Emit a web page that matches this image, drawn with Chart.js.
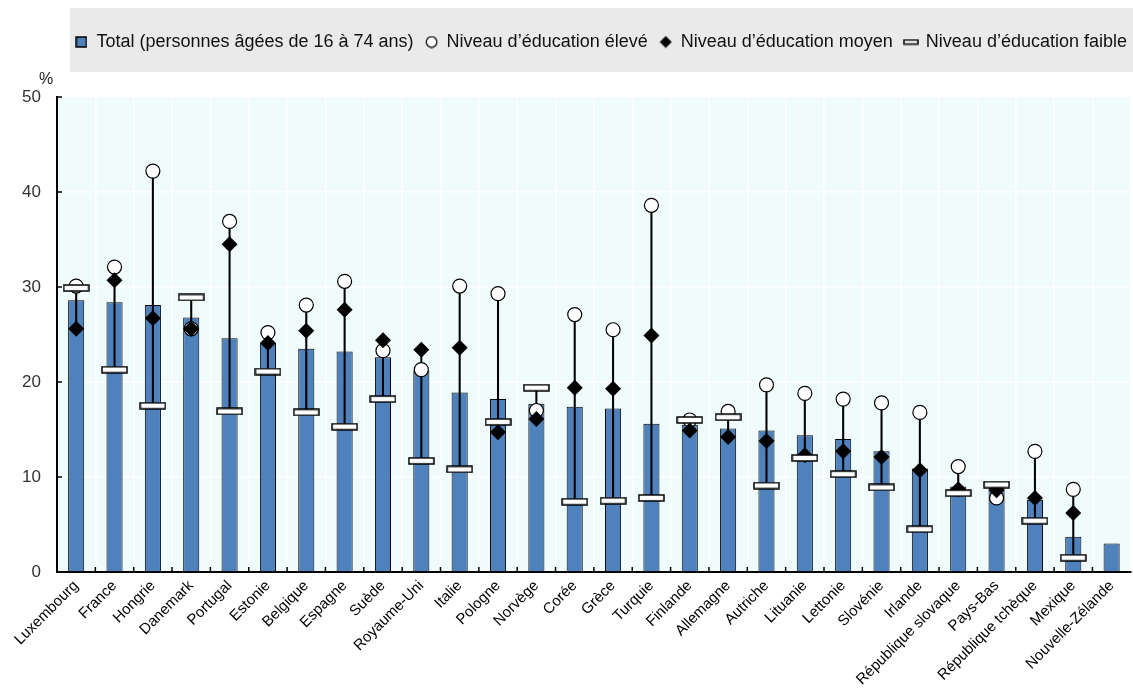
<!DOCTYPE html>
<html>
<head>
<meta charset="utf-8">
<script src="https://cdn.jsdelivr.net/npm/chart.js@4"></script>
<style>
  html, body { margin: 0; padding: 0; background: #fff; overflow: hidden; }
  #wrap { width: 1139px; height: 692px; }
</style>
</head>
<body>
<div id="wrap"><canvas id="myChart"></canvas></div>
<script>
const countries = ["Luxembourg", "France", "Hongrie", "Danemark", "Portugal", "Estonie", "Belgique", "Espagne", "Suède", "Royaume-Uni", "Italie", "Pologne", "Norvège", "Corée", "Grèce", "Turquie", "Finlande", "Allemagne", "Autriche", "Lituanie", "Lettonie", "Slovénie", "Irlande", "République slovaque", "Pays-Bas", "République tchèque", "Mexique", "Nouvelle-Zélande"];
const total = [28.6, 28.4, 28.1, 26.8, 24.6, 24.1, 23.5, 23.2, 22.6, 21.2, 18.9, 18.2, 17.7, 17.4, 17.2, 15.6, 15.5, 15.1, 14.9, 14.4, 14.0, 12.7, 10.9, 9.0, 8.9, 7.6, 3.7, 3.0];
const high = [30.1, 32.1, 42.2, 25.6, 36.9, 25.2, 28.1, 30.6, 23.3, 21.3, 30.1, 29.3, 17.0, 27.1, 25.5, 38.6, 16.0, 16.9, 19.7, 18.8, 18.2, 17.8, 16.8, 11.1, 7.8, 12.7, 8.7, null];
const medium = [25.6, 30.7, 26.7, 25.6, 34.5, 24.1, 25.4, 27.6, 24.4, 23.4, 23.6, 14.7, 16.1, 19.4, 19.3, 24.9, 14.9, 14.2, 13.8, 12.3, 12.7, 12.1, 10.7, 8.7, 8.6, 7.8, 6.2, null];
const low = [29.9, 21.3, 17.5, 28.9, 16.9, 21.1, 16.8, 15.3, 18.2, 11.7, 10.8, 15.8, 19.4, 7.4, 7.5, 7.8, 16.0, 16.3, 9.1, 12.0, 10.3, 8.9, 4.5, 8.3, 9.2, 5.4, 1.5, null];
const yTicks = [0, 10, 20, 30, 40, 50];
const seriesNames = ["Total (personnes âgées de 16 à 74 ans)", "Niveau d’éducation élevé", "Niveau d’éducation moyen", "Niveau d’éducation faible"];

const BLUE = "#4f81bd";
const SANS = "'Liberation Sans', Arial, sans-serif";

// min-max line behind the markers
let ranges = countries.map((c, i) => {
  let v = [high[i], medium[i], low[i]].filter((x) => x != null);
  if (v.length == 0) return null;
  return [Math.min(...v), Math.max(...v)];
});

function makeIcon(w, h, draw) {
  let c = document.createElement("canvas");
  c.width = w;
  c.height = h;
  draw(c.getContext("2d"));
  return c;
}

let dashMark = makeIcon(27, 8, (ctx) => {
  ctx.fillStyle = "#fff";
  ctx.fillRect(1, 1, 25, 6);
  ctx.strokeStyle = "#000";
  ctx.lineWidth = 1.5;
  ctx.strokeRect(1, 1, 25, 6);
});
let dashIcon = makeIcon(16, 7, (ctx) => {
  ctx.fillStyle = "#fff";
  ctx.fillRect(1, 1.5, 14, 4);
  ctx.strokeStyle = "#000";
  ctx.lineWidth = 1.5;
  ctx.strokeRect(1, 1.5, 14, 4);
});
let boxIcon = makeIcon(12, 12, (ctx) => {
  ctx.fillStyle = BLUE;
  ctx.fillRect(1, 1, 10, 10);
  ctx.strokeStyle = "#000";
  ctx.lineWidth = 1.5;
  ctx.strokeRect(1, 1, 10, 10);
});
let circleIcon = makeIcon(13, 13, (ctx) => {
  ctx.fillStyle = "#fff";
  ctx.strokeStyle = "#000";
  ctx.lineWidth = 1.2;
  ctx.beginPath();
  ctx.arc(6.5, 6.5, 5.3, 0, Math.PI * 2);
  ctx.fill();
  ctx.stroke();
});
let diamondIcon = makeIcon(13, 13, (ctx) => {
  ctx.fillStyle = "#000";
  ctx.beginPath();
  ctx.moveTo(6.5, 0.5);
  ctx.lineTo(12.5, 6.5);
  ctx.lineTo(6.5, 12.5);
  ctx.lineTo(0.5, 6.5);
  ctx.closePath();
  ctx.fill();
});
const legendIcons = [boxIcon, circleIcon, diamondIcon, dashIcon];

const backgrounds = {
  id: "backgrounds",
  beforeDraw(chart) {
    let ctx = chart.ctx;
    let a = chart.chartArea;
    ctx.save();
    ctx.fillStyle = "#eaeaea";
    ctx.fillRect(70, 8, chart.width - 70, 64);
    ctx.fillStyle = "#f0fcfc";
    ctx.fillRect(a.left, a.top, a.right - a.left, a.bottom - a.top);
    ctx.restore();
  },
  afterDraw(chart) {
    let ctx = chart.ctx;
    let a = chart.chartArea;
    let x = chart.scales.x;
    let y = chart.scales.y;
    ctx.save();
    ctx.strokeStyle = "#000";
    ctx.lineWidth = 1.5;
    ctx.beginPath();
    yTicks.forEach((t) => {
      let py = y.getPixelForValue(t);
      ctx.moveTo(a.left, py);
      ctx.lineTo(a.left + 5, py);
    });
    for (let i = 1; i < countries.length; i++) {
      let px = (x.getPixelForValue(i - 1) + x.getPixelForValue(i)) / 2;
      ctx.moveTo(px, a.bottom);
      ctx.lineTo(px, a.bottom - 5);
    }
    ctx.stroke();
    ctx.fillStyle = "#222";
    ctx.font = "16px " + SANS;
    ctx.textAlign = "center";
    ctx.fillText("%", 46, a.top - 17);
    ctx.restore();
  },
};

new Chart("myChart", {
  data: {
    labels: countries,
    datasets: [
      {
        type: "bar",
        label: seriesNames[0],
        data: total,
        backgroundColor: BLUE,
        borderColor: "#000",
        borderWidth: 1,
        barPercentage: 0.42,
        categoryPercentage: 1,
        grouped: false,
        order: 5,
      },
      {
        type: "bar",
        label: "range",
        data: ranges,
        backgroundColor: "#000",
        borderWidth: 0,
        barThickness: 1.4,
        grouped: false,
        order: 4,
      },
      {
        type: "line",
        label: seriesNames[1],
        data: high,
        showLine: false,
        pointStyle: "circle",
        pointRadius: 7,
        pointBackgroundColor: "#fff",
        pointBorderColor: "#000",
        pointBorderWidth: 1.2,
        order: 3,
      },
      {
        type: "line",
        label: seriesNames[2],
        data: medium,
        showLine: false,
        pointStyle: "rectRot",
        pointRadius: 8,
        pointBackgroundColor: "#000",
        pointBorderColor: "#000",
        pointBorderWidth: 0,
        order: 2,
      },
      {
        type: "line",
        label: seriesNames[3],
        data: low,
        showLine: false,
        pointStyle: dashMark,
        order: 1,
      },
    ],
  },
  options: {
    responsive: true,
    maintainAspectRatio: false,
    animation: false,
    layout: { padding: { top: 21, right: 0, left: 0, bottom: 0 } },
    plugins: {
      tooltip: { enabled: false },
      legend: {
        position: "top",
        align: "end",
        labels: {
          usePointStyle: true,
          boxWidth: 12,
          boxHeight: 12,
          padding: 12,
          color: "#111",
          font: { family: SANS, size: 18 },
          generateLabels: () =>
            seriesNames.map((name, i) => ({
              text: name,
              pointStyle: legendIcons[i],
              fillStyle: "#000",
              strokeStyle: "#000",
              lineWidth: 0,
              hidden: false,
              fontColor: "#111",
            })),
        },
        onClick: () => {},
      },
      // empty title used as a spacer between legend and plot
      title: {
        display: true,
        text: "",
        weight: 500,
        font: { size: 10, lineHeight: 1 },
        padding: { top: 0, bottom: 26 },
      },
    },
    scales: {
      x: {
        offset: true,
        grid: { color: "#ffffff", lineWidth: 1.5, drawTicks: false, offset: true },
        border: { color: "#000", width: 2 },
        ticks: {
          autoSkip: false,
          maxRotation: 45,
          minRotation: 45,
          padding: 5,
          color: "#000",
          font: { family: SANS, size: 15 },
        },
        afterFit: (s) => { s.height = 120; },
      },
      y: {
        min: 0,
        max: 50,
        grid: { color: "#ffffff", lineWidth: 1.5, drawTicks: false },
        border: { color: "#000", width: 2 },
        ticks: {
          stepSize: 10,
          padding: 16,
          color: "#333",
          font: { family: SANS, size: 17 },
          callback: (v) => (yTicks.includes(v) ? v : ""),
        },
        afterFit: (s) => { s.width = 57; },
      },
    },
  },
  plugins: [backgrounds],
});
</script>
</body>
</html>
